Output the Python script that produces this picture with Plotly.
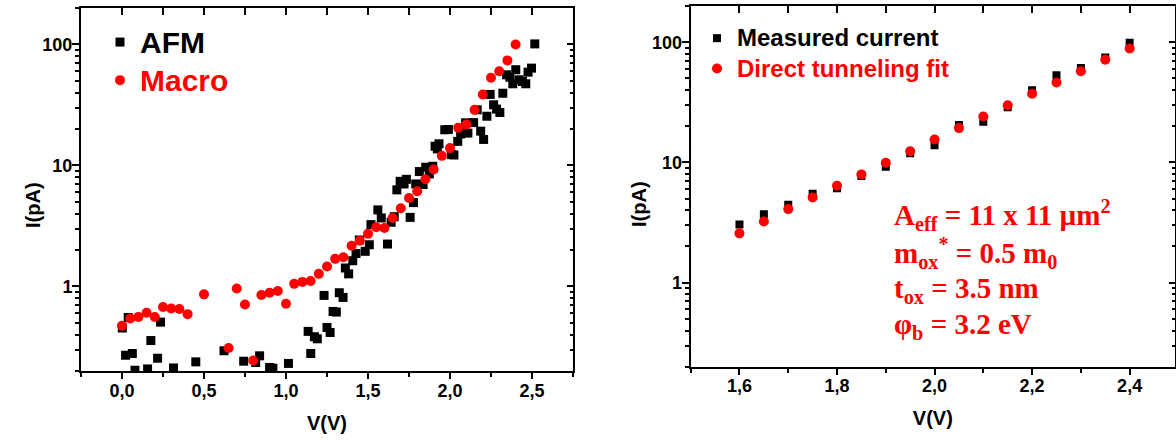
import math
import plotly.graph_objects as go

W, H = 1176, 441

# ---- left panel: AFM vs macro I-V ----
afm_v = [0.002, 0.038, 0.022, 0.063, 0.079, 0.156, 0.176, 0.217, 0.235, 0.314,
         0.45, 0.622, 0.742, 0.815, 0.839, 0.90, 0.92, 1.015, 1.135, 1.151,
         1.173, 1.191, 1.232, 1.25, 1.269, 1.287, 1.307, 1.325, 1.348, 1.362,
         1.382, 1.407, 1.427, 1.447, 1.483, 1.508, 1.518, 1.56, 1.581, 1.619,
         1.641, 1.66, 1.676, 1.696, 1.72, 1.734, 1.757, 1.777, 1.791, 1.813,
         1.836, 1.852, 1.874, 1.895, 1.909, 1.923, 1.933, 1.968, 1.99, 2.008,
         2.024, 2.047, 2.065, 2.089, 2.095, 2.109, 2.144, 2.166, 2.187, 2.205,
         2.225, 2.245, 2.266, 2.284, 2.304, 2.322, 2.345, 2.365, 2.383, 2.401,
         2.421, 2.442, 2.462, 2.476, 2.497, 2.517]
afm_i = [0.453, 0.554, 0.27, 0.279, 0.203, 0.208, 0.357, 0.255, 0.507, 0.212,
         0.238, 0.294, 0.241, 0.235, 0.267, 0.214, 0.211, 0.231, 0.425, 0.279,
         0.384, 0.369, 0.843, 0.458, 0.416, 0.621, 0.614, 0.887, 0.811, 1.42,
         1.27, 1.63, 1.87, 2.42, 1.95, 2.21, 3.24, 4.29, 3.68, 2.24,
         3.39, 3.77, 6.28, 7.39, 7.03, 7.68, 3.72, 4.93, 7.03, 8.9,
         6.95, 9.66, 8.51, 9.84, 14.4, 13.7, 15.1, 19.7, 19.8, 12.3,
         12.2, 15.8, 18.2, 18.8, 22.5, 18.5, 22.6, 28.8, 19.2, 16.4,
         25.5, 38.6, 31.7, 29.2, 27.4, 39.5, 56.1, 53.6, 47.3, 61.8,
         51.0, 49.4, 47.3, 59.0, 63.7, 101.0]

macro_v = [0.00, 0.05, 0.10, 0.15, 0.20, 0.25, 0.30, 0.35, 0.40, 0.50,
           0.65, 0.70, 0.75, 0.80, 0.85, 0.90, 0.95, 1.00, 1.05, 1.10,
           1.15, 1.20, 1.25, 1.30, 1.35, 1.40, 1.45, 1.50, 1.55, 1.60,
           1.65, 1.70, 1.75, 1.80, 1.85, 1.90, 1.95, 2.00, 2.05, 2.10,
           2.15, 2.20, 2.25, 2.30, 2.35, 2.40]
macro_i = [0.473, 0.543, 0.56, 0.605, 0.558, 0.675, 0.658, 0.65, 0.59, 0.86,
           0.31, 0.96, 0.71, 0.244, 0.85, 0.887, 0.916, 0.72, 1.05, 1.09,
           1.11, 1.27, 1.46, 1.69, 1.74, 2.17, 2.39, 2.72, 3.08, 3.04,
           3.68, 4.42, 5.38, 6.11, 7.68, 9.24, 12.0, 13.9, 20.5, 21.8,
           28.8, 38.6, 53.0, 60.1, 73.8, 100.0]

# ---- right panel: measured current vs direct tunneling fit ----
fit_v = [1.60, 1.65, 1.70, 1.75, 1.80, 1.85, 1.90, 1.95, 2.00,
         2.05, 2.10, 2.15, 2.20, 2.25, 2.30, 2.35, 2.40]
measured_i = [3.05, 3.7, 4.45, 5.5, 6.1, 7.7, 9.2, 11.9, 13.9,
              20.5, 21.8, 28.7, 39.9, 53.0, 61.0, 74.5, 99.0]
fit_i = [2.57, 3.23, 4.09, 5.12, 6.4, 7.95, 9.94, 12.4, 15.5,
         19.3, 24.1, 29.9, 37.2, 46.2, 57.4, 71.4, 88.7]

left_xticks = [0.0, 0.5, 1.0, 1.5, 2.0, 2.5]
left_xlabels = ["0,0", "0,5", "1,0", "1,5", "2,0", "2,5"]
right_xticks = [1.6, 1.8, 2.0, 2.2, 2.4]
right_xlabels = ["1,6", "1,8", "2,0", "2,2", "2,4"]
y_ticks = [1, 10, 100]
y_labels = ["1", "10", "100"]
y_minor = [m * d for d in (0.1, 1, 10) for m in range(2, 10)] + [200]

RED = "#ff0000"
SANS = "Liberation Sans, Arial"
SERIF = "Liberation Serif, Times New Roman"


def px_x(p):
    return p / W


def px_y(p):
    return 1 - p / H


def big(text, size, color="black"):
    return f"<span style='font-size:{size}px;color:{color}'>{text}</span>"


fig = go.Figure()

fig.add_trace(go.Scatter(x=afm_v, y=afm_i, mode="markers", name=big("AFM", 30),
                         marker=dict(symbol="square", size=9, color="black"),
                         xaxis="x", yaxis="y", legend="legend"))
fig.add_trace(go.Scatter(x=macro_v, y=macro_i, mode="markers",
                         name=big("Macro", 30, RED),
                         marker=dict(symbol="circle", size=10, color=RED),
                         xaxis="x", yaxis="y", legend="legend"))
fig.add_trace(go.Scatter(x=fit_v, y=measured_i, mode="markers",
                         name=big("Measured current", 24),
                         marker=dict(symbol="square", size=8, color="black"),
                         xaxis="x2", yaxis="y2", legend="legend2"))
fig.add_trace(go.Scatter(x=fit_v, y=fit_i, mode="markers",
                         name=big("Direct tunneling fit", 24, RED),
                         marker=dict(symbol="circle", size=10, color=RED),
                         xaxis="x2", yaxis="y2", legend="legend2"))
# empty traces so the mirrored tick axes get drawn
fig.add_trace(go.Scatter(x=[], y=[], xaxis="x3", yaxis="y3", showlegend=False))
fig.add_trace(go.Scatter(x=[], y=[], xaxis="x4", yaxis="y4", showlegend=False))

tickfont = dict(family=SANS, size=18, color="black", weight="bold")
base = dict(showgrid=False, zeroline=False, showline=True, linecolor="black",
            linewidth=2, mirror=True, tickcolor="black", tickwidth=2,
            tickfont=tickfont, automargin=False, ticklabelstandoff=-4)
xtitle = dict(font=dict(family=SANS, size=20, color="black", weight="bold"), standoff=16)

left_dom_x = [px_x(81), px_x(573)]
left_dom_y = [px_y(371), px_y(8)]
right_dom_x = [px_x(690.7), px_x(1175)]
right_dom_y = [px_y(366.7), px_y(6)]
left_xr = [-0.25, 2.75]
right_xr = [1.5, 2.493]
yr = [math.log10(0.2), math.log10(200)]

fig.update_layout(
    xaxis=dict(base, domain=left_dom_x, range=left_xr, anchor="y",
               tickmode="array", tickvals=left_xticks, ticktext=left_xlabels,
               ticks="outside", ticklen=6,
               minor=dict(tickmode="linear", tick0=0, dtick=0.25, ticks="outside",
                          ticklen=4, tickwidth=1.5, tickcolor="black"),
               title=dict(text="V(V)", **xtitle)),
    yaxis=dict(base, domain=left_dom_y, type="log", range=yr, anchor="x",
               tickmode="array", tickvals=y_ticks, ticktext=y_labels,
               ticks="outside", ticklen=7,
               minor=dict(tickmode="array", tickvals=y_minor, ticks="outside",
                          ticklen=4, tickwidth=1.5, tickcolor="black")),
    xaxis2=dict(base, domain=right_dom_x, range=right_xr, anchor="y2",
                tickmode="array", tickvals=right_xticks, ticktext=right_xlabels,
                ticks="outside", ticklen=6,
                minor=dict(tickmode="linear", tick0=1.5, dtick=0.1, ticks="outside",
                           ticklen=4, tickwidth=1.5, tickcolor="black"),
                title=dict(text="V(V)", **xtitle)),
    yaxis2=dict(base, domain=right_dom_y, type="log", range=yr, anchor="x2",
                tickmode="array", tickvals=y_ticks, ticktext=y_labels,
                ticks="outside", ticklen=7,
                minor=dict(tickmode="array", tickvals=y_minor, ticks="outside",
                           ticklen=4, tickwidth=1.5, tickcolor="black")),
    # mirrored inside ticks (top / right)
    xaxis3=dict(overlaying="x", side="top", anchor="y", range=left_xr, showline=False,
                showgrid=False, zeroline=False, showticklabels=False,
                tickmode="linear", tick0=0, dtick=0.25, ticks="inside", ticklen=7,
                tickwidth=2, tickcolor="black"),
    yaxis3=dict(overlaying="y", side="right", anchor="x", type="log", range=yr,
                showline=False, showgrid=False, zeroline=False, showticklabels=False,
                tickmode="array", tickvals=y_ticks, ticks="inside", ticklen=6,
                tickwidth=2, tickcolor="black",
                minor=dict(tickmode="array", tickvals=y_minor, ticks="inside",
                           ticklen=3, tickwidth=1.5, tickcolor="black")),
    xaxis4=dict(overlaying="x2", side="top", anchor="y2", range=right_xr, showline=False,
                showgrid=False, zeroline=False, showticklabels=False,
                tickmode="linear", tick0=1.5, dtick=0.1, ticks="inside", ticklen=7,
                tickwidth=2, tickcolor="black"),
    yaxis4=dict(overlaying="y2", side="right", anchor="x2", type="log", range=yr,
                showline=False, showgrid=False, zeroline=False, showticklabels=False,
                tickmode="array", tickvals=y_ticks, ticks="inside", ticklen=6,
                tickwidth=2, tickcolor="black",
                minor=dict(tickmode="array", tickvals=y_minor, ticks="inside",
                           ticklen=3, tickwidth=1.5, tickcolor="black")),
    legend=dict(x=px_x(100), y=px_y(18), xanchor="left", yanchor="top",
                bgcolor="rgba(0,0,0,0)", tracegroupgap=0,
                font=dict(family=SANS, size=27, color="black", weight="bold")),
    legend2=dict(x=px_x(697), y=px_y(18), xanchor="left", yanchor="top",
                 bgcolor="rgba(0,0,0,0)", tracegroupgap=0,
                 font=dict(family=SANS, size=21, color="black", weight="bold")),
    width=W, height=H,
    margin=dict(l=0, r=0, t=0, b=0),
    plot_bgcolor="white", paper_bgcolor="white",
)

ytitle_font = dict(family=SANS, size=20, color="black", weight="bold")
fig.add_annotation(text="I(pA)", textangle=-90, xref="paper", yref="paper",
                   x=px_x(33), y=px_y(205), xanchor="center", yanchor="middle",
                   showarrow=False, font=ytitle_font)
fig.add_annotation(text="I(pA)", textangle=-90, xref="paper", yref="paper",
                   x=px_x(639), y=px_y(204), xanchor="center", yanchor="middle",
                   showarrow=False, font=ytitle_font)

param_lines = [
    "A<sub>eff</sub> = 11 x 11 µm<sup>2</sup>",
    "m<sub>ox</sub><sup>*</sup> = 0.5 m<sub>0</sub>",
    "t<sub>ox</sub> = 3.5 nm",
    "φ<sub>b</sub> = 3.2 eV",
]
param_y = [215, 253, 290, 326]
for txt, yy in zip(param_lines, param_y):
    fig.add_annotation(text=txt, xref="paper", yref="paper", x=px_x(892), y=px_y(yy),
                       xanchor="left", yanchor="middle", showarrow=False,
                       font=dict(family=SERIF, size=29, color=RED, weight="bold"))

# the page body has a default 8px margin; drop it so the figure fills the window
fig.write_html("out.html", config={"displayModeBar": False},
               post_script="document.body.style.margin='0';document.body.style.overflow='hidden';")
